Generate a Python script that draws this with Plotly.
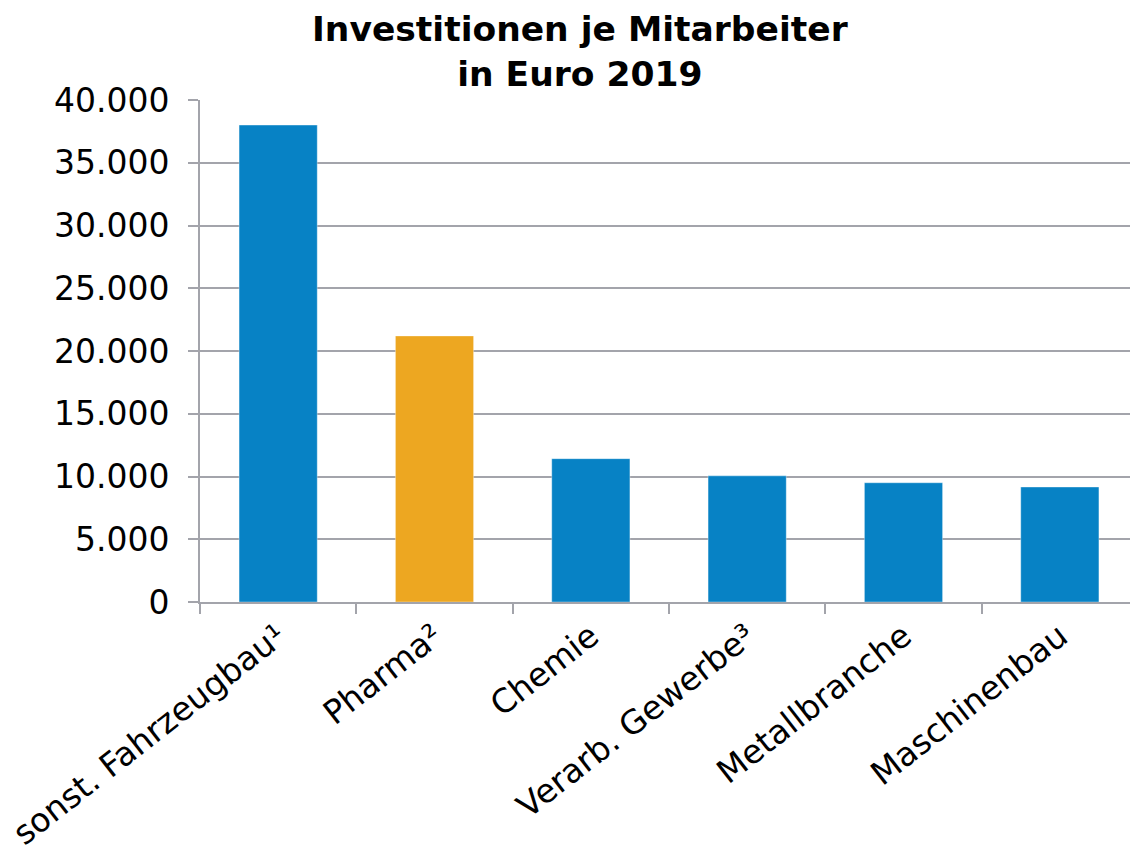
import plotly.graph_objects as go

categories = ["sonst. Fahrzeugbau¹", "Pharma²", "Chemie", "Verarb. Gewerbe³", "Metallbranche", "Maschinenbau"]
values = [38000, 21200, 11420, 10050, 9500, 9160]
colors = ["#0782C5", "#EDA721", "#0782C5", "#0782C5", "#0782C5", "#0782C5"]
y_ticks = [0, 5000, 10000, 15000, 20000, 25000, 30000, 35000, 40000]
title_text = "<b>Investitionen je Mitarbeiter<br>in Euro 2019</b>"

fig = go.Figure(go.Bar(
    x=categories, y=values,
    marker=dict(color=colors, line=dict(color="rgba(255,255,255,0.35)", width=1)),
    width=0.5,
))

grid = "#A3A4AB"
fig.update_layout(
    width=1130, height=838,
    paper_bgcolor="white", plot_bgcolor="white",
    margin=dict(l=192, r=0, t=92, b=244, autoexpand=False),
    separators=",.",
    font=dict(family="DejaVu Sans", size=33, color="black"),
    showlegend=False,
    bargap=0.5,
)
fig.add_annotation(
    text=title_text, xref="paper", yref="paper", x=0.405, y=1.185,
    xanchor="center", yanchor="top", showarrow=False,
    font=dict(family="DejaVu Sans", size=34.5, color="black"),
)
fig.update_xaxes(
    tickangle=-38, tickson="boundaries", ticks="outside", ticklen=10,
    tickcolor=grid, tickwidth=2, showline=True, linecolor=grid, linewidth=2,
    showgrid=False, tickfont=dict(size=33, color="black"), automargin=False,
)
fig.update_yaxes(
    range=[0, 40000], tickvals=y_ticks, tickformat=",d",
    ticks="outside", ticklen=10, tickcolor=grid, tickwidth=2,
    showline=True, linecolor=grid, linewidth=2,
    showgrid=True, gridcolor=grid, gridwidth=2, zeroline=False,
    tickfont=dict(size=33, color="black"), automargin=False,
    ticklabelstandoff=12,
)
fig.write_html("out.html")
